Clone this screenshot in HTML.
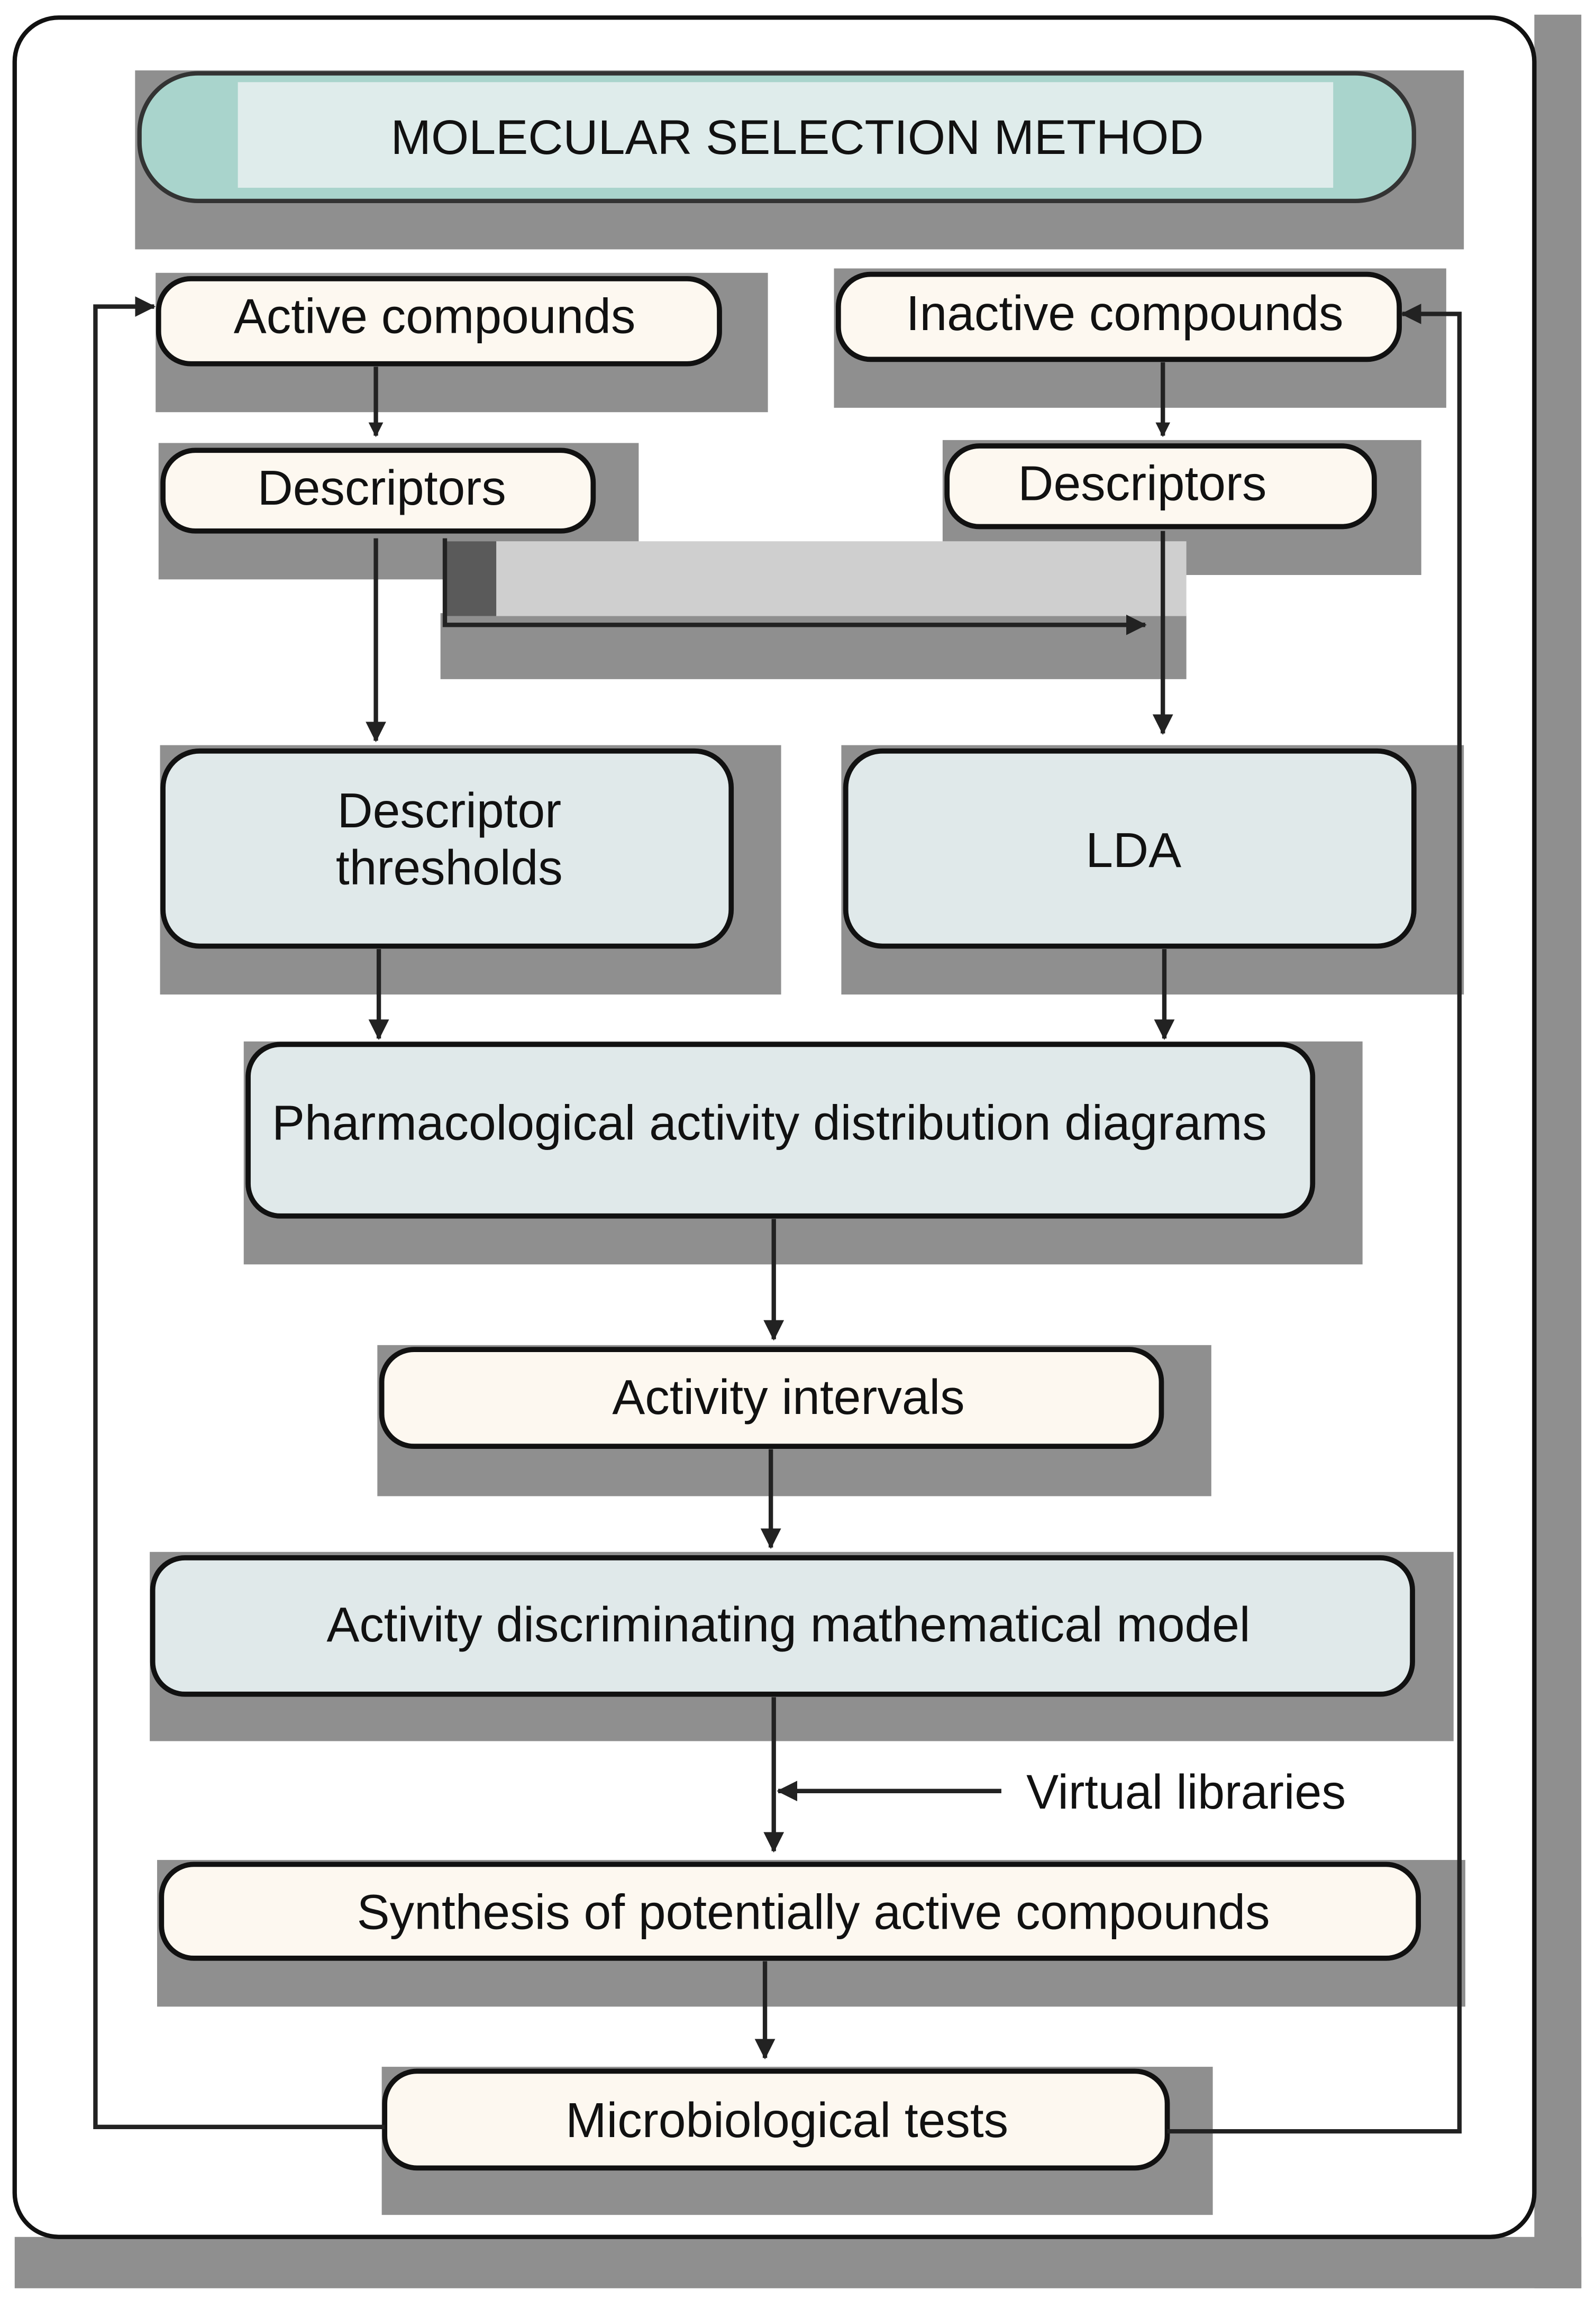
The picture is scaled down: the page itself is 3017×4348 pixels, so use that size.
<!DOCTYPE html>
<html><head><meta charset="utf-8"><style>html,body{margin:0;padding:0;background:#fff}svg{display:block}</style></head>
<body>
<svg width="3017" height="4348" viewBox="0 0 1087 1568" preserveAspectRatio="none" xmlns="http://www.w3.org/2000/svg" font-family="Liberation Sans, Arial, sans-serif">
<defs>
<marker id="ah" markerWidth="10" markerHeight="10" refX="9" refY="5" orient="auto" markerUnits="userSpaceOnUse">
<path d="M0,0 L10,5 L0,10 Z" fill="#222"/></marker>
<marker id="ah2" markerWidth="14" markerHeight="14" refX="13" refY="7" orient="auto" markerUnits="userSpaceOnUse">
<path d="M0,0 L14,7 L0,14 Z" fill="#222"/></marker>
</defs>
<rect width="1087" height="1568" fill="#fff"/>
<rect x="1045" y="10" width="32" height="1550" fill="#8f8f8f"/>
<rect x="10" y="1525" width="1067" height="35" fill="#8f8f8f"/>
<rect x="10" y="12" width="1035" height="1513" rx="30" fill="#fff" stroke="#111" stroke-width="3"/>

<rect x="92" y="48" width="905" height="122" fill="#8f8f8f"/>
<rect x="95" y="50" width="868" height="87" rx="40" fill="#a9d4cc" stroke="#333" stroke-width="3"/>
<rect x="162" y="56" width="746" height="72" fill="#dfeceb"/>
<text x="543" y="105" font-size="33" text-anchor="middle" fill="#111">MOLECULAR SELECTION METHOD</text>

<g fill="#8f8f8f">
<rect x="106" y="186" width="417" height="95"/>
<rect x="568" y="183" width="417" height="95"/>
<rect x="108" y="302" width="327" height="93"/>
<rect x="642" y="300" width="326" height="92"/>
<rect x="300" y="418" width="508" height="45"/>
<rect x="109" y="508" width="423" height="170"/>
<rect x="573" y="508" width="424" height="170"/>
<rect x="166" y="710" width="762" height="152"/>
<rect x="257" y="917" width="568" height="103"/>
<rect x="102" y="1058" width="888" height="129"/>
<rect x="107" y="1268" width="891" height="100"/>
<rect x="260" y="1409" width="566" height="101"/>
</g>
<rect x="303" y="369" width="505" height="51" fill="#cfcfcf"/>
<rect x="303" y="369" width="35" height="51" fill="#5a5a5a"/>

<g fill="#fdf8f0" stroke="#111" stroke-width="3.5">
<rect x="108" y="190" width="382" height="58" rx="22"/>
<rect x="571" y="187" width="382" height="58" rx="22"/>
<rect x="111" y="307" width="293" height="55" rx="22"/>
<rect x="645" y="304" width="291" height="55" rx="22"/>
<rect x="260" y="920" width="531" height="66" rx="22"/>
<rect x="110" y="1271" width="856" height="64" rx="22"/>
<rect x="262" y="1412" width="533" height="66" rx="22"/>
</g>
<g fill="#e0e9ea" stroke="#111" stroke-width="3.5">
<rect x="111" y="512" width="387" height="133" rx="25"/>
<rect x="576" y="512" width="387" height="133" rx="25"/>
<rect x="169" y="712" width="725" height="117" rx="22"/>
<rect x="104" y="1062" width="858" height="93" rx="22"/>
</g>

<g font-size="33.5" fill="#111" text-anchor="middle">
<text x="296" y="227">Active compounds</text>
<text x="766" y="225">Inactive compounds</text>
<text x="260" y="344">Descriptors</text>
<text x="778" y="341">Descriptors</text>
<text x="306" y="564">Descriptor</text>
<text x="306" y="603">thresholds</text>
<text x="772" y="591">LDA</text>
<text x="524" y="777">Pharmacological activity distribution diagrams</text>
<text x="537" y="964">Activity intervals</text>
<text x="537" y="1119">Activity discriminating mathematical model</text>
<text x="554" y="1315">Synthesis of potentially active compounds</text>
<text x="536" y="1457">Microbiological tests</text>
<text x="699" y="1233" text-anchor="start" font-size="33">Virtual libraries</text>
</g>

<g stroke="#222" stroke-width="3" fill="none">
<line x1="256" y1="250" x2="256" y2="297" marker-end="url(#ah)"/>
<line x1="792" y1="247" x2="792" y2="297" marker-end="url(#ah)"/>
<line x1="256" y1="367" x2="256" y2="505" marker-end="url(#ah2)"/>
<polyline points="303,367 303,426 780,426" marker-end="url(#ah2)"/>
<line x1="792" y1="362" x2="792" y2="500" marker-end="url(#ah2)"/>
<line x1="258" y1="647" x2="258" y2="708" marker-end="url(#ah2)"/>
<line x1="793" y1="647" x2="793" y2="708" marker-end="url(#ah2)"/>
<line x1="527" y1="831" x2="527" y2="913" marker-end="url(#ah2)"/>
<line x1="525" y1="988" x2="525" y2="1055" marker-end="url(#ah2)"/>
<line x1="527" y1="1157" x2="527" y2="1262" marker-end="url(#ah2)"/>
<line x1="682" y1="1221" x2="530" y2="1221" marker-end="url(#ah2)"/>
<line x1="521" y1="1337" x2="521" y2="1403" marker-end="url(#ah2)"/>
<polyline points="262,1450 65,1450 65,209 105,209" marker-end="url(#ah2)"/>
<polyline points="795,1453 994,1453 994,214 955,214" marker-end="url(#ah2)"/>
</g>
</svg>
</body></html>
